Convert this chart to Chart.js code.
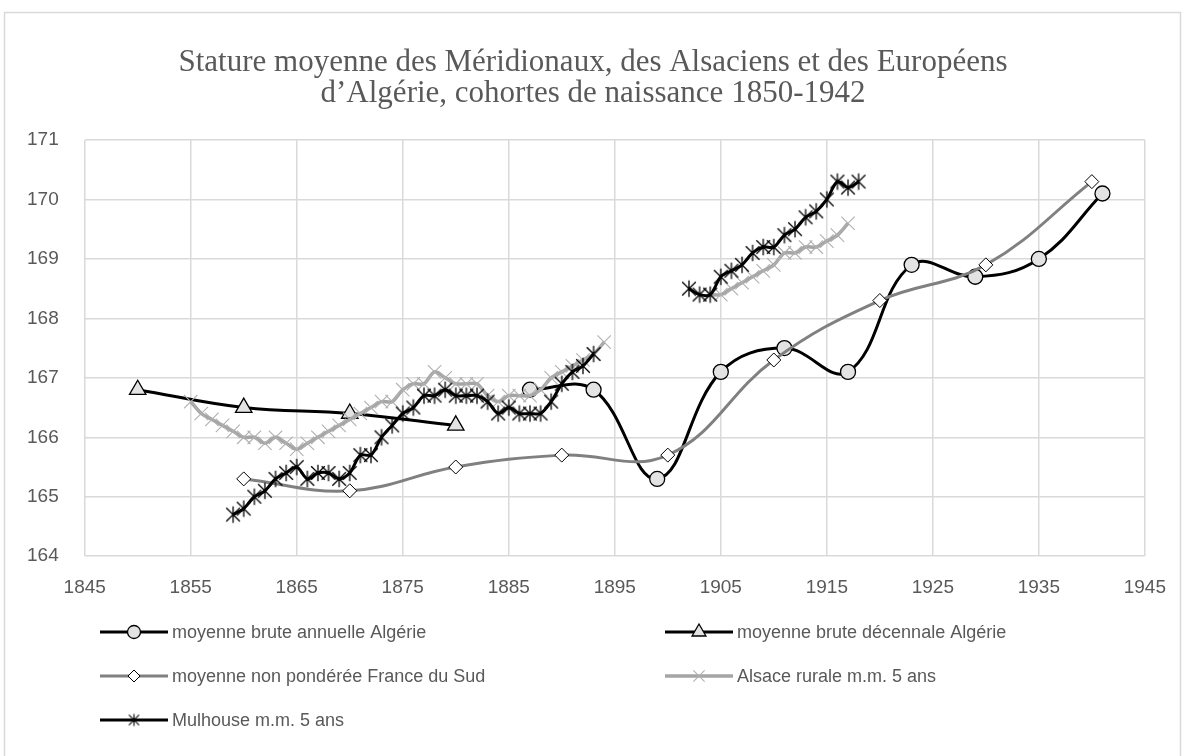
<!DOCTYPE html>
<html><head><meta charset="utf-8">
<script src="https://cdn.jsdelivr.net/npm/chart.js@4.4.1/dist/chart.umd.min.js"></script>
<style>html,body{margin:0;padding:0;background:#fff;} canvas{display:block;}</style>
</head><body>
<canvas id="c" width="1186" height="756"></canvas>
<script>
const titleLines = ["Stature moyenne des Méridionaux, des Alsaciens et des Européens", "d’Algérie, cohortes de naissance 1850-1942"];
const xTickValues = [1845,1855,1865,1875,1885,1895,1905,1915,1925,1935,1945];
const yTickValues = [164,165,166,167,168,169,170,171];

const seriesLabels = ["moyenne brute annuelle Algérie","moyenne brute décennale Algérie","moyenne non pondérée France du Sud","Alsace rurale m.m. 5 ans","Mulhouse m.m. 5 ans"];

const annualYears  = [1887,1893,1899,1905,1911,1917,1923,1929,1935,1941];
const annualValues = [166.8,166.8,165.3,167.1,167.5,167.1,168.9,168.7,169.0,170.1];

const decadeYears  = [1850,1860,1870,1880];
const decadeValues = [166.8,166.5,166.4,166.2];

const southYears  = [1860,1870,1880,1890,1900,1910,1920,1930,1940];
const southValues = [165.3,165.1,165.5,165.7,165.7,167.3,168.3,168.9,170.3];

const alsaceYears1  = [1855,1856,1857,1858,1859,1860,1861,1862,1863,1864,1865,1866,1867,1868,1869,1870,1871,1872,1873,1874,1875,1876,1877,1878,1879,1880,1881,1882,1883,1884,1885,1886,1887,1888,1889,1890,1891,1892,1893,1894];
const alsaceValues1 = [166.6,166.4,166.3,166.2,166.1,166.0,166.0,165.9,166.0,165.9,165.8,165.9,166.0,166.1,166.2,166.3,166.4,166.5,166.6,166.6,166.8,166.9,166.9,167.1,167.0,166.9,166.9,166.9,166.7,166.6,166.7,166.7,166.7,166.8,167.0,167.1,167.2,167.3,167.4,167.6];
const alsaceYears2  = [1904,1905,1906,1907,1908,1909,1910,1911,1912,1913,1914,1915,1916,1917];
const alsaceValues2 = [168.4,168.4,168.5,168.6,168.7,168.8,168.9,169.1,169.1,169.2,169.2,169.3,169.4,169.6];

const mulhouseYears1  = [1859,1860,1861,1862,1863,1864,1865,1866,1867,1868,1869,1870,1871,1872,1873,1874,1875,1876,1877,1878,1879,1880,1881,1882,1883,1884,1885,1886,1887,1888,1889,1890,1891,1892,1893];
const mulhouseValues1 = [164.7,164.8,165.0,165.1,165.3,165.4,165.5,165.3,165.4,165.4,165.3,165.4,165.7,165.7,166.0,166.2,166.4,166.5,166.7,166.7,166.8,166.7,166.7,166.7,166.6,166.4,166.5,166.4,166.4,166.4,166.6,166.9,167.1,167.2,167.4];
const mulhouseYears2  = [1902,1903,1904,1905,1906,1907,1908,1909,1910,1911,1912,1913,1914,1915,1916,1917,1918];
const mulhouseValues2 = [168.5,168.4,168.4,168.7,168.8,168.9,169.1,169.2,169.2,169.4,169.5,169.7,169.8,170.0,170.3,170.2,170.3];

function pts(years, values){ return years.map((x,i)=>({x:x, y:values[i]})); }
function gapJoin(a, b){ return a.concat([{x:(a[a.length-1].x + b[0].x)/2, y:null}], b); }

function makeAsterisk(size, color, lw){
  const c=document.createElement('canvas'); c.width=c.height=size;
  const g=c.getContext('2d'); const m=size/2; const a=size*0.34;
  g.strokeStyle=color; g.lineWidth=lw; g.beginPath();
  g.moveTo(m-a,m-a); g.lineTo(m+a,m+a);
  g.moveTo(m+a,m-a); g.lineTo(m-a,m+a);
  g.moveTo(m,m-a*1.2); g.lineTo(m,m+a*1.2);
  g.stroke(); return c;
}
const asterisk = makeAsterisk(20,'#000',1.3);
const asteriskSmall = makeAsterisk(15,'#000',1.1);

const TXT = '#595959';
const SANS = '"Liberation Sans", Arial, sans-serif';
const SERIF = '"Liberation Serif","Times New Roman",serif';

const datasets = [
  {label:seriesLabels[0], data:pts(annualYears,annualValues), borderColor:'#000', borderWidth:3,
   pointStyle:'circle', pointRadius:7.5, pointBackgroundColor:'#e3e3e3', pointBorderColor:'#000', pointBorderWidth:1.3, tension:0.4, order:5, legendRadius:6.5},
  {label:seriesLabels[1], data:pts(decadeYears,decadeValues), borderColor:'#000', borderWidth:3,
   pointStyle:'triangle', pointRadius:9.5, pointBackgroundColor:'#e3e3e3', pointBorderColor:'#000', pointBorderWidth:1.3, tension:0.4, order:4, legendRadius:8},
  {label:seriesLabels[2], data:pts(southYears,southValues), borderColor:'#808080', borderWidth:3,
   pointStyle:'rectRot', pointRadius:7, pointBackgroundColor:'#fff', pointBorderColor:'#000', pointBorderWidth:1, tension:0.4, order:3, legendRadius:6},
  {label:seriesLabels[3], data:gapJoin(pts(alsaceYears1,alsaceValues1), pts(alsaceYears2,alsaceValues2)), borderColor:'#a5a5a5', borderWidth:3.5,
   pointStyle:'crossRot', pointRadius:9.5, pointBackgroundColor:'#b0b0b0', pointBorderColor:'#b0b0b0', pointBorderWidth:1.1, tension:0.3, order:2, legendRadius:8},
  {label:seriesLabels[4], data:gapJoin(pts(mulhouseYears1,mulhouseValues1), pts(mulhouseYears2,mulhouseValues2)), borderColor:'#000', borderWidth:3,
   pointStyle:asterisk, pointRadius:8, pointBackgroundColor:'#000', pointBorderColor:'#000', pointBorderWidth:1, tension:0.3, order:1, legendImage:asteriskSmall}
];

const frame = {
  id:'frame',
  beforeDraw(chart){
    const ctx=chart.ctx; ctx.save();
    ctx.fillStyle='#fff'; ctx.fillRect(0,0,chart.width,chart.height);
    ctx.strokeStyle='#d9d9d9'; ctx.lineWidth=1.5;
    ctx.strokeRect(4.5,12.5,1176,760);
    ctx.fillStyle=TXT; ctx.font='31px '+SERIF; ctx.textAlign='center'; ctx.textBaseline='middle';
    ctx.fillText(titleLines[0],593,63);
    ctx.fillText(titleLines[1],593,94);
    ctx.restore();
  }
};

const legendCols=[100,665], legendRows=[632,676,720];
const customLegend = {
  id:'customLegend',
  afterDraw(chart){
    const ctx=chart.ctx; ctx.save();
    chart.data.datasets.forEach((ds,i)=>{
      const x0=legendCols[i%2], y=legendRows[Math.floor(i/2)];
      ctx.strokeStyle=ds.borderColor; ctx.lineWidth=ds.borderWidth; ctx.lineCap='butt';
      ctx.beginPath(); ctx.moveTo(x0,y); ctx.lineTo(x0+68,y); ctx.stroke();
      const cx=x0+34;
      if(ds.legendImage){
        const im=ds.legendImage; ctx.drawImage(im,cx-im.width/2,y-im.height/2);
      } else {
        ctx.fillStyle=ds.pointBackgroundColor; ctx.strokeStyle=ds.pointBorderColor; ctx.lineWidth=ds.pointBorderWidth;
        Chart.helpers.drawPoint(ctx,{pointStyle:ds.pointStyle, radius:ds.legendRadius, rotation:0, borderWidth:ds.pointBorderWidth},cx,y);
      }
      ctx.fillStyle=TXT; ctx.font='18px '+SANS; ctx.textBaseline='middle'; ctx.textAlign='left';
      ctx.fillText(ds.label,x0+72,y+1);
    });
    ctx.restore();
  }
};

new Chart(document.getElementById('c'),{
  type:'line',
  data:{datasets:datasets},
  options:{
    responsive:false, animation:false, spanGaps:false,
    layout:{padding:{left:1,right:40,top:140,bottom:137}},
    plugins:{ legend:{display:false}, tooltip:{enabled:false}, title:{display:false} },
    scales:{
      x:{type:'linear', min:xTickValues[0], max:xTickValues[xTickValues.length-1],
         afterBuildTicks(s){ s.ticks=xTickValues.map(v=>({value:v})); },
         ticks:{callback:v=>String(v), color:TXT, font:{family:SANS,size:19}, padding:20, maxRotation:0, autoSkip:false},
         grid:{color:'#d9d9d9', lineWidth:1.5, drawTicks:false}, border:{display:false}},
      y:{type:'linear', min:yTickValues[0], max:yTickValues[yTickValues.length-1],
         afterBuildTicks(s){ s.ticks=yTickValues.map(v=>({value:v})); },
         ticks:{callback:v=>String(v), color:TXT, font:{family:SANS,size:19}, padding:26},
         grid:{color:'#d9d9d9', lineWidth:1.5, drawTicks:false}, border:{display:false}}
    }
  },
  plugins:[frame, customLegend]
});
</script>
</body></html>
